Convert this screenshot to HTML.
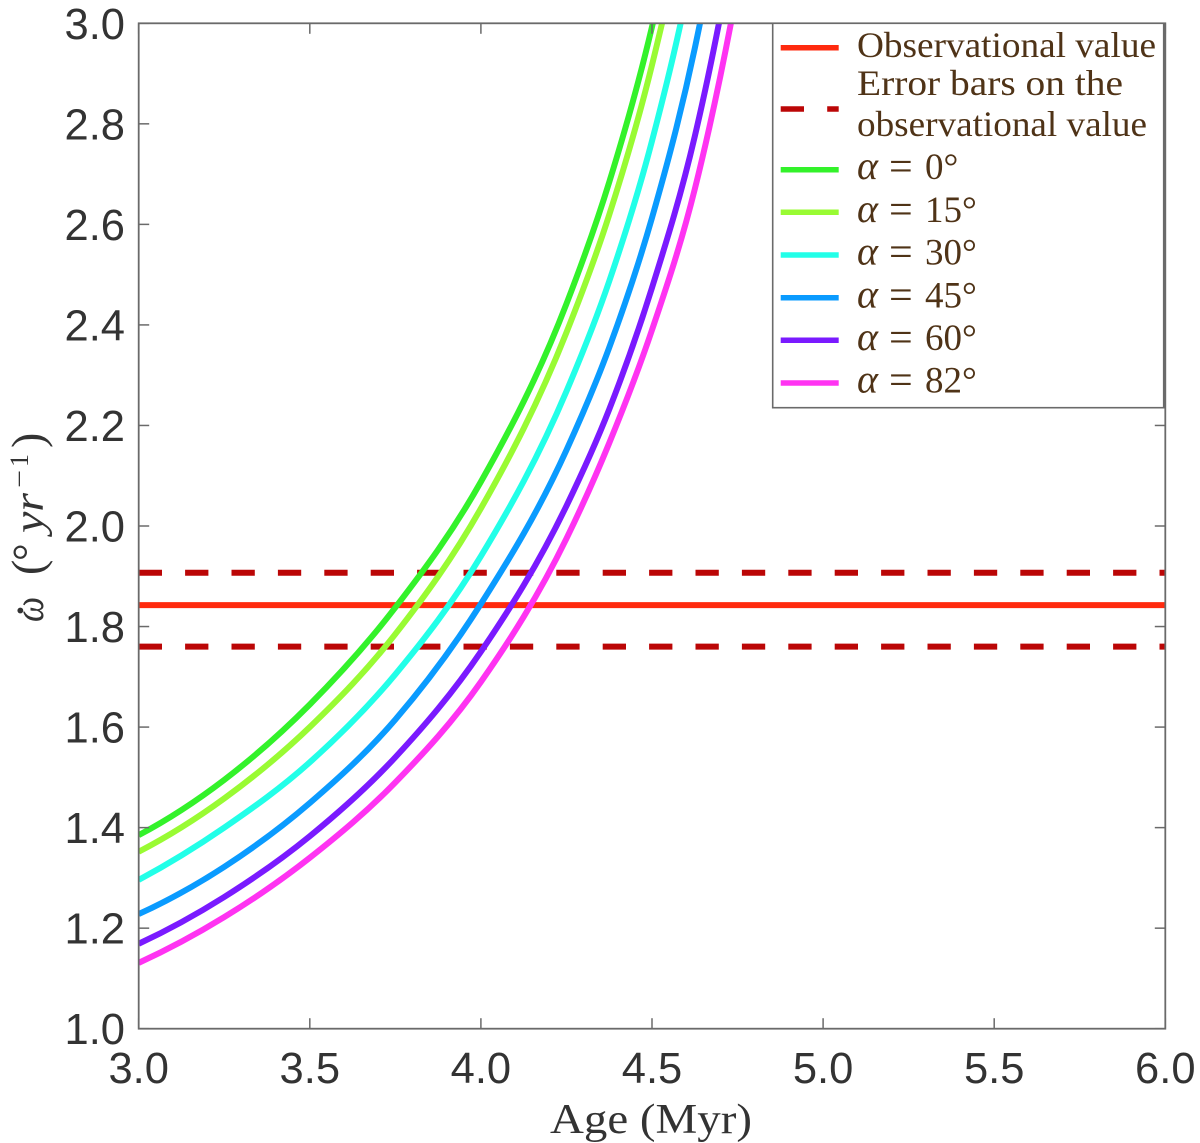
<!DOCTYPE html>
<html lang="en">
<head>
<meta charset="utf-8">
<title>Precession rate versus age</title>
<style>
html,body{margin:0;padding:0;background:#fff;}
svg{display:block;}
.tick-label{font-family:"Liberation Sans",sans-serif;font-size:43.5px;fill:#333;}
.legend-text{font-family:"Liberation Serif",serif;font-size:36px;fill:#4f3317;}
.math{font-family:"Liberation Serif",serif;fill:#333;}
</style>
</head>
<body>
<svg id="chart" xmlns="http://www.w3.org/2000/svg" width="1200" height="1143" viewBox="0 0 1200 1143">
  <rect x="0" y="0" width="1200" height="1143" fill="#fff"/>
  <defs>
    <clipPath id="plot-clip"><rect x="138.7" y="23.3" width="1026.6" height="1005.4"/></clipPath>
  </defs>
  <g id="reference-lines" clip-path="url(#plot-clip)"></g>
  <g id="series" clip-path="url(#plot-clip)"></g>
  <g id="axes"></g>

  <text class="math" x="550" y="1133" font-size="42" textLength="202" lengthAdjust="spacingAndGlyphs">Age (Myr)</text>

  <g transform="translate(43,622) rotate(-90)">
    <text class="math" x="0" y="0" font-size="42" font-style="italic" textLength="25" lengthAdjust="spacingAndGlyphs">ω</text>
    <text class="math" x="7" y="-20" font-size="36" font-weight="bold">.</text>
    <text class="math" x="47" y="0" font-size="46">(</text>
    <text class="math" x="61" y="0" font-size="44">°</text>
    <text class="math" x="89" y="0" font-size="42" font-style="italic" textLength="40" lengthAdjust="spacingAndGlyphs">yr</text>
    <text class="math" x="134" y="-15" font-size="26" textLength="18" lengthAdjust="spacingAndGlyphs">−</text>
    <text class="math" x="155" y="-15" font-size="26">1</text>
    <text class="math" x="174" y="0" font-size="46">)</text>
  </g>

  <g>
    <rect x="772.7" y="23.3" width="391" height="384.4" fill="#fff" stroke="#6a6a6a" stroke-width="1.6"/>

    <line x1="780.7" x2="838.7" y1="47.7" y2="47.7" stroke="#ff2a0e" stroke-width="5.5"/>
    <text class="legend-text" x="857" y="57" textLength="299" lengthAdjust="spacingAndGlyphs">Observational value</text>

    <line x1="780.7" x2="838.7" y1="109" y2="109" stroke="#bb0606" stroke-width="5.5" stroke-dasharray="23.3 23.2"/>
    <text class="legend-text" x="857" y="95" textLength="266" lengthAdjust="spacingAndGlyphs">Error bars on the</text>
    <text class="legend-text" x="857" y="136" textLength="290" lengthAdjust="spacingAndGlyphs">observational value</text>

    <line x1="780.7" x2="838.7" y1="169.7" y2="169.7" stroke="#33f22a" stroke-width="5.5"/>
    <text class="legend-text" y="179"><tspan x="857" font-style="italic" font-size="40">α</tspan><tspan x="889" font-size="42" dy="1.5">=</tspan><tspan x="925" font-size="37" dy="-1.5">0°</tspan></text>

    <line x1="780.7" x2="838.7" y1="212.3" y2="212.3" stroke="#99fb33" stroke-width="5.5"/>
    <text class="legend-text" y="222"><tspan x="857" font-style="italic" font-size="40">α</tspan><tspan x="889" font-size="42" dy="1.5">=</tspan><tspan x="925" font-size="37" dy="-1.5">15°</tspan></text>

    <line x1="780.7" x2="838.7" y1="255" y2="255" stroke="#22ffe8" stroke-width="5.5"/>
    <text class="legend-text" y="264.5"><tspan x="857" font-style="italic" font-size="40">α</tspan><tspan x="889" font-size="42" dy="1.5">=</tspan><tspan x="925" font-size="37" dy="-1.5">30°</tspan></text>

    <line x1="780.7" x2="838.7" y1="297.7" y2="297.7" stroke="#0a9bff" stroke-width="5.5"/>
    <text class="legend-text" y="307.5"><tspan x="857" font-style="italic" font-size="40">α</tspan><tspan x="889" font-size="42" dy="1.5">=</tspan><tspan x="925" font-size="37" dy="-1.5">45°</tspan></text>

    <line x1="780.7" x2="838.7" y1="340.3" y2="340.3" stroke="#7a1aff" stroke-width="5.5"/>
    <text class="legend-text" y="350"><tspan x="857" font-style="italic" font-size="40">α</tspan><tspan x="889" font-size="42" dy="1.5">=</tspan><tspan x="925" font-size="37" dy="-1.5">60°</tspan></text>

    <line x1="780.7" x2="838.7" y1="383" y2="383" stroke="#ff33f2" stroke-width="5.5"/>
    <text class="legend-text" y="392.7"><tspan x="857" font-style="italic" font-size="40">α</tspan><tspan x="889" font-size="42" dy="1.5">=</tspan><tspan x="925" font-size="37" dy="-1.5">82°</tspan></text>
  </g>
</svg>
<script>
// Axis ticks
const xTicks = [3.0, 3.5, 4.0, 4.5, 5.0, 5.5, 6.0];
const xTickLabels = ["3.0", "3.5", "4.0", "4.5", "5.0", "5.5", "6.0"];
const yTicks = [1.0, 1.2, 1.4, 1.6, 1.8, 2.0, 2.2, 2.4, 2.6, 2.8, 3.0];
const yTickLabels = ["1.0", "1.2", "1.4", "1.6", "1.8", "2.0", "2.2", "2.4", "2.6", "2.8", "3.0"];

// Reference values
const observedValue = 1.8425;
const errorUpper = 1.907;
const errorLower = 1.76;

// Curves: age (Myr) and precession rate (deg/yr)
const ages = [3.0, 3.25, 3.5, 3.75, 4.0, 4.25, 4.375, 4.5, 4.625, 4.75];
const omegaAlpha0 = [1.385, 1.495, 1.645, 1.838, 2.088, 2.442, 2.684, 2.993, 3.407, 4.000];
const omegaAlpha15 = [1.352, 1.458, 1.600, 1.785, 2.035, 2.385, 2.619, 2.917, 3.314, 3.874];
const omegaAlpha30 = [1.296, 1.400, 1.530, 1.705, 1.940, 2.268, 2.487, 2.766, 3.137, 3.658];
const omegaAlpha45 = [1.228, 1.322, 1.449, 1.615, 1.845, 2.151, 2.355, 2.613, 2.950, 3.416];
const omegaAlpha60 = [1.169, 1.262, 1.383, 1.540, 1.750, 2.040, 2.232, 2.474, 2.775, 3.200];
const omegaAlpha82 = [1.131, 1.222, 1.340, 1.490, 1.690, 1.975, 2.165, 2.390, 2.670, 3.070];

const NS = "http://www.w3.org/2000/svg";
const plotLeft = 138.7, plotRight = 1165.3, plotTop = 23.3, plotBottom = 1028.7;
const axisColor = "#6a6a6a";

function xScale(age) { return plotLeft + (age - 3) / 3 * (plotRight - plotLeft); }
function yScale(omega) { return plotBottom - (omega - 1) / 2 * (plotBottom - plotTop); }

function svgEl(tag, attrs, parent) {
  const el = document.createElementNS(NS, tag);
  for (const k in attrs) el.setAttribute(k, attrs[k]);
  parent.appendChild(el);
  return el;
}

// Smooth curve through the data points (cubic Hermite with weighted tangents)
function curvePath(xs, ys) {
  const n = xs.length;
  const px = xs.map(xScale), py = ys.map(yScale);
  const s = [];
  for (let i = 0; i < n - 1; i++) s.push((py[i + 1] - py[i]) / (px[i + 1] - px[i]));
  const m = [];
  for (let i = 0; i < n; i++) {
    if (i === 0) {
      const h0 = px[1] - px[0], h1 = px[2] - px[1];
      m.push(((2 * h0 + h1) * s[0] - h0 * s[1]) / (h0 + h1));
    } else if (i === n - 1) {
      const h0 = px[n - 2] - px[n - 3], h1 = px[n - 1] - px[n - 2];
      m.push(((2 * h1 + h0) * s[n - 2] - h1 * s[n - 3]) / (h0 + h1));
    } else {
      const h0 = px[i] - px[i - 1], h1 = px[i + 1] - px[i];
      m.push((h1 * s[i - 1] + h0 * s[i]) / (h0 + h1));
    }
  }
  let d = "M" + px[0].toFixed(2) + " " + py[0].toFixed(2);
  for (let i = 0; i < n - 1; i++) {
    const h = (px[i + 1] - px[i]) / 3;
    d += "C" + (px[i] + h).toFixed(2) + " " + (py[i] + m[i] * h).toFixed(2) + " " +
         (px[i + 1] - h).toFixed(2) + " " + (py[i + 1] - m[i + 1] * h).toFixed(2) + " " +
         px[i + 1].toFixed(2) + " " + py[i + 1].toFixed(2);
  }
  return d;
}

// Reference lines
const refGroup = document.getElementById("reference-lines");

const upperLine = svgEl("line", {x1: plotLeft, x2: plotRight, y1: yScale(errorUpper), y2: yScale(errorUpper), stroke: "#bb0606", "stroke-width": 6, "stroke-dasharray": "23.3 23.1"}, refGroup);



const lowerLine = svgEl("line", {x1: plotLeft, x2: plotRight, y1: yScale(errorLower), y2: yScale(errorLower), stroke: "#bb0606", "stroke-width": 6, "stroke-dasharray": "23.3 23.1"}, refGroup);



const observedLine = svgEl("line", {x1: plotLeft, x2: plotRight, y1: yScale(observedValue), y2: yScale(observedValue), stroke: "#ff2a0e", "stroke-width": 6}, refGroup);



// Curves
const seriesGroup = document.getElementById("series");

const curve0 = svgEl("path", {d: curvePath(ages, omegaAlpha0), fill: "none", stroke: "#33f22a", "stroke-width": 6}, seriesGroup);



const curve15 = svgEl("path", {d: curvePath(ages, omegaAlpha15), fill: "none", stroke: "#99fb33", "stroke-width": 6}, seriesGroup);



const curve30 = svgEl("path", {d: curvePath(ages, omegaAlpha30), fill: "none", stroke: "#22ffe8", "stroke-width": 6}, seriesGroup);



const curve45 = svgEl("path", {d: curvePath(ages, omegaAlpha45), fill: "none", stroke: "#0a9bff", "stroke-width": 6}, seriesGroup);



const curve60 = svgEl("path", {d: curvePath(ages, omegaAlpha60), fill: "none", stroke: "#7a1aff", "stroke-width": 6}, seriesGroup);



const curve82 = svgEl("path", {d: curvePath(ages, omegaAlpha82), fill: "none", stroke: "#ff33f2", "stroke-width": 6}, seriesGroup);



// Axes
const axesGroup = document.getElementById("axes");

const plotFrame = svgEl("rect", {x: plotLeft, y: plotTop, width: plotRight - plotLeft, height: plotBottom - plotTop, fill: "none", stroke: axisColor, "stroke-width": 1.8}, axesGroup);



xTicks.forEach(function (t, i) {
  const x = xScale(t);
  const bottomTick = svgEl("line", {x1: x, x2: x, y1: plotBottom, y2: plotBottom - 10.5, stroke: axisColor, "stroke-width": 1.5}, axesGroup);
  
  
  const topTick = svgEl("line", {x1: x, x2: x, y1: plotTop, y2: plotTop + 10.5, stroke: axisColor, "stroke-width": 1.5}, axesGroup);
  
  
  const label = svgEl("text", {x: x, y: 1083, "text-anchor": "middle", class: "tick-label"}, axesGroup);
  
  
  label.textContent = xTickLabels[i];
});

yTicks.forEach(function (v, i) {
  const y = yScale(v);
  const leftTick = svgEl("line", {x1: plotLeft, x2: plotLeft + 10.5, y1: y, y2: y, stroke: axisColor, "stroke-width": 1.5}, axesGroup);
  
  
  const rightTick = svgEl("line", {x1: plotRight, x2: plotRight - 10.5, y1: y, y2: y, stroke: axisColor, "stroke-width": 1.5}, axesGroup);
  
  
  const label = svgEl("text", {x: 125, y: y + 15.5, "text-anchor": "end", class: "tick-label"}, axesGroup);
  
  
  label.textContent = yTickLabels[i];
});
</script>
</body>
</html>
